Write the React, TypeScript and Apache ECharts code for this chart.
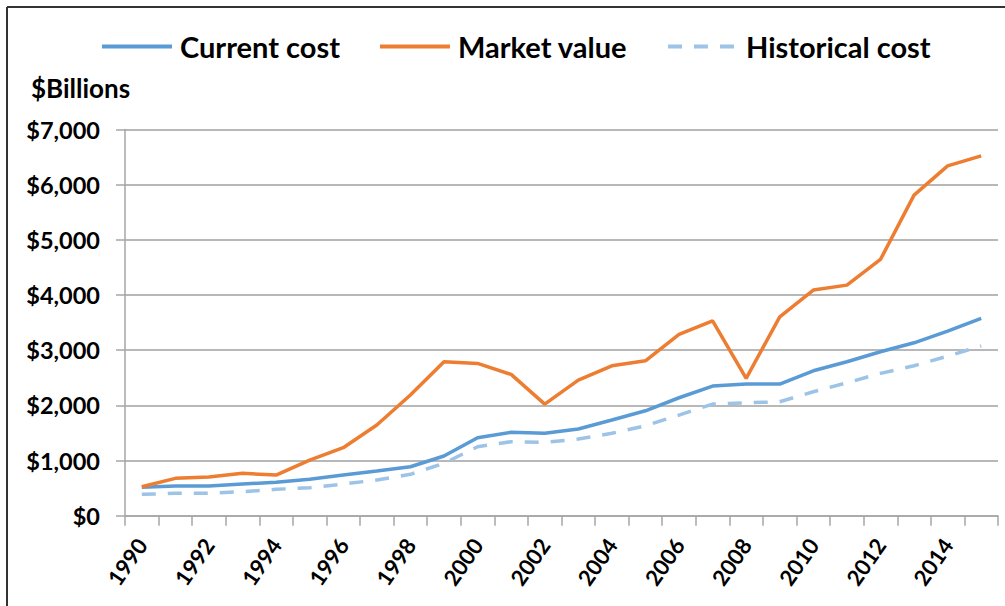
import React, { useEffect, useRef } from "react";
import * as echarts from "echarts";

const years = [
  "1990", "1991", "1992", "1993", "1994", "1995", "1996", "1997", "1998", "1999",
  "2000", "2001", "2002", "2003", "2004", "2005", "2006", "2007", "2008", "2009",
  "2010", "2011", "2012", "2013", "2014", "2015",
];
const currentCost = [
  514, 538, 538, 574, 605, 659, 737, 810, 888, 1082,
  1413, 1511, 1493, 1571, 1734, 1902, 2138, 2350, 2386, 2386,
  2627, 2790, 2971, 3134, 3346, 3576,
];
const marketValue = [
  526, 677, 701, 768, 737, 1009, 1232, 1643, 2187, 2790,
  2760, 2561, 2023, 2458, 2717, 2808, 3286, 3533, 2489, 3605,
  4089, 4179, 4645, 5810, 6341, 6522,
];
const historicalCost = [
  387, 406, 406, 435, 478, 507, 574, 647, 750, 949,
  1250, 1341, 1330, 1389, 1493, 1630, 1824, 2023, 2047, 2065,
  2246, 2409, 2580, 2717, 2893, 3075,
];
const seriesNames = ["Current cost", "Market value", "Historical cost"];
const yTickStep = 1000;
const yMax = 7000;

const FONT = "Lato, 'Open Sans', sans-serif";

const legendLefts = [100, 378, 666];

export default function App() {
  const ref = useRef<HTMLDivElement>(null);
  useEffect(() => {
    if (!ref.current) return;
    const chart = echarts.init(ref.current, undefined, { renderer: "svg" });
    chart.setOption({
      animation: false,
      backgroundColor: "#ffffff",
      textStyle: { fontFamily: FONT },
      grid: { left: 125, right: 7, top: 129.5, bottom: 90.3, containLabel: false },
      legend: seriesNames.map((n, i) => ({
        left: legendLefts[i],
        top: 32,
        itemWidth: 70,
        itemHeight: 14,
        padding: 0,
        itemStyle: { opacity: 0 },
        lineStyle: { width: 4 },
        textStyle: {
          fontFamily: FONT,
          fontWeight: "bold",
          fontSize: 29,
          color: "#000",
          padding: [0, 0, 0, 3],
        },
        data: [n],
      })),
      graphic: [
        { type: "line", shape: { x1: 7, y1: 7, x2: 1005, y2: 7 }, style: { stroke: "#333", lineWidth: 2 } },
        { type: "line", shape: { x1: 7, y1: 7, x2: 7, y2: 606 }, style: { stroke: "#333", lineWidth: 2 } },
        {
          type: "text",
          left: 31,
          top: 75,
          style: { text: "$Billions", font: `bold 26px ${FONT}`, fill: "#000" },
        },
      ],
      xAxis: {
        type: "category",
        data: years,
        boundaryGap: true,
        axisLine: { lineStyle: { color: "#a6a6a6", width: 1.5 } },
        axisTick: { show: true, interval: 0, length: 10, lineStyle: { color: "#a6a6a6", width: 1.5 } },
        axisLabel: {
          interval: 1,
          rotate: 55,
          margin: 25,
          fontFamily: FONT,
          fontWeight: "bold",
          fontSize: 22,
          color: "#000",
        },
      },
      yAxis: {
        type: "value",
        min: 0,
        max: yMax,
        interval: yTickStep,
        axisLine: { show: true, lineStyle: { color: "#a6a6a6", width: 1.5 } },
        axisTick: { show: true, length: 9, lineStyle: { color: "#a6a6a6", width: 1.5 } },
        splitLine: { show: true, lineStyle: { color: "#a0a0a0", width: 1.5 } },
        axisLabel: {
          margin: 25,
          fontFamily: FONT,
          fontWeight: "bold",
          fontSize: 23.5,
          color: "#000",
          formatter: (v: number) => "$" + v.toLocaleString("en-US"),
        },
      },
      series: [
        {
          name: seriesNames[0],
          type: "line",
          data: currentCost,
          symbol: "none",
          lineStyle: { color: "#5b9bd5", width: 3.5 },
          itemStyle: { color: "#5b9bd5" },
          z: 3,
        },
        {
          name: seriesNames[1],
          type: "line",
          data: marketValue,
          symbol: "none",
          lineStyle: { color: "#ed7d31", width: 3.5 },
          itemStyle: { color: "#ed7d31" },
          z: 4,
        },
        {
          name: seriesNames[2],
          type: "line",
          data: historicalCost,
          symbol: "none",
          lineStyle: { color: "#9dc3e6", width: 3.5, type: [14, 12] },
          itemStyle: { color: "#9dc3e6" },
          z: 2,
        },
      ],
    });
    return () => chart.dispose();
  }, []);
  return (
    <div
      ref={ref}
      style={{ position: "fixed", left: 0, top: 0, width: 1005, height: 606, background: "#fff" }}
    />
  );
}
